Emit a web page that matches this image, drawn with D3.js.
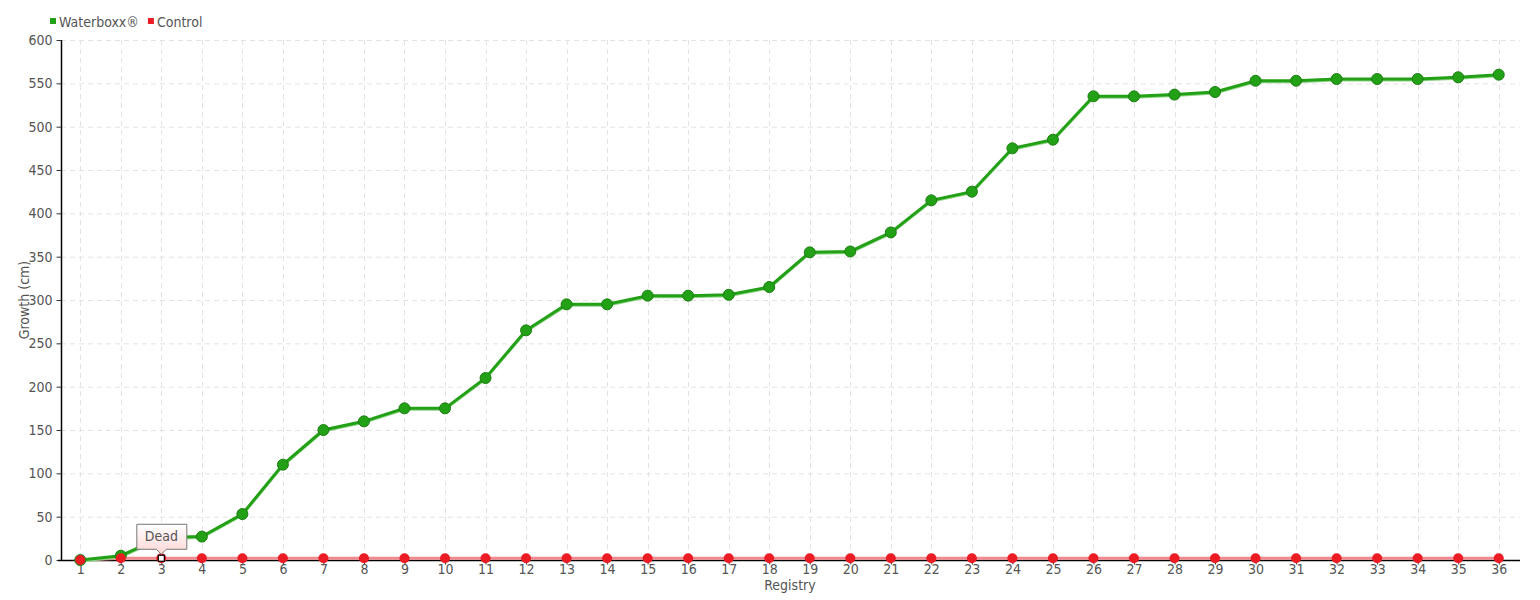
<!DOCTYPE html>
<html>
<head>
<meta charset="utf-8">
<script src="https://cdn.jsdelivr.net/npm/d3@7"></script>
<style>
  html, body { margin: 0; padding: 0; background: #fff; }
  svg text { font-family: "DejaVu Sans Condensed", "DejaVu Sans", sans-serif; font-stretch: condensed; fill: #555; }
</style>
</head>
<body>
<svg id="chart" width="1540" height="600"></svg>
<script>
const registry = d3.range(1, 37).map(String);
const waterboxx = [0, 5, 26, 27, 53, 110, 150, 160, 175, 175, 210, 265, 295, 295, 305, 305, 306, 315, 355, 356, 378, 415, 425, 475, 485, 535, 535, 537, 540, 553, 553, 555, 555, 555, 557, 560];
const control = [0, 2, 2, 2, 2, 2, 2, 2, 2, 2, 2, 2, 2, 2, 2, 2, 2, 2, 2, 2, 2, 2, 2, 2, 2, 2, 2, 2, 2, 2, 2, 2, 2, 2, 2, 2];
const controlNotes = { 3: "Dead" };
const yTicks = [0, 50, 100, 150, 200, 250, 300, 350, 400, 450, 500, 550, 600];
const seriesNames = ["Waterboxx®", "Control"];
const seriesColors = ["#22a016", "#ec1c24"];

const svg = d3.select("#chart");
const mLeft = 61, mRight = 1520, mTop = 40, mBottom = 560;

const x = d3.scalePoint().domain(registry).range([mLeft - 1, mRight - 1]).padding(0.5);
const y = d3.scaleLinear().domain([0, 600]).range([mBottom, mTop]);

// grid
const grid = svg.append("g").attr("stroke", "#e3e3e3").attr("stroke-dasharray", "5,4").attr("stroke-width", 1);
grid.selectAll(".h").data(yTicks.filter(d => d > 0)).join("line")
  .attr("x1", mLeft).attr("x2", mRight).attr("y1", d => y(d) + 0.5).attr("y2", d => y(d) + 0.5);
grid.selectAll(".v").data(registry).join("line")
  .attr("x1", d => Math.round(x(d)) + 0.5).attr("x2", d => Math.round(x(d)) + 0.5).attr("y1", mTop).attr("y2", mBottom);

// axes
const yAxis = svg.append("g").attr("transform", `translate(${mLeft + 0.5},0)`)
  .call(d3.axisLeft(y).tickValues(yTicks).tickSize(5).tickPadding(4));
yAxis.select(".domain").attr("stroke", "#000").attr("stroke-width", 1.5).attr("d", `M0,${mTop}V${mBottom}`);
yAxis.selectAll(".tick line").attr("stroke", "#333");
yAxis.selectAll("text").style("font-size", "14px").attr("fill", "#555");

const xAxis = svg.append("g").attr("transform", `translate(0,${mBottom + 0.5})`)
  .call(d3.axisBottom(x).tickSize(4).tickPadding(0));
xAxis.select(".domain").attr("stroke", "#000").attr("stroke-width", 1.5).attr("d", `M${mLeft - 3},0H${mRight}`);
xAxis.selectAll(".tick line").attr("stroke", "#333");
xAxis.selectAll("text").style("font-size", "14px").attr("fill", "#555");

// axis titles
svg.append("text").attr("x", 790).attr("y", 590).attr("text-anchor", "middle").style("font-size", "14px").text("Registry");
svg.append("text").attr("transform", `translate(29,${(mTop + mBottom) / 2}) rotate(-90)`).attr("text-anchor", "middle").style("font-size", "14px").text("Growth (cm)");

// control series
const line = d3.line().x((d, i) => x(registry[i])).y(d => y(d));
svg.append("path").datum(control).attr("d", line).attr("fill", "none")
  .attr("stroke", "#f08a8f").attr("stroke-width", 3);

// waterboxx series
svg.append("path").datum(waterboxx).attr("d", line).attr("fill", "none")
  .attr("stroke", "#8fd486").attr("stroke-width", 2).attr("transform", "translate(0,1.5)");
svg.append("path").datum(waterboxx).attr("d", line).attr("fill", "none")
  .attr("stroke", seriesColors[0]).attr("stroke-width", 3);
svg.append("g").selectAll("circle").data(waterboxx).join("circle")
  .attr("cx", (d, i) => x(registry[i])).attr("cy", d => y(d)).attr("r", 5.5)
  .attr("fill", seriesColors[0]).attr("stroke", "#1b7e12").attr("stroke-width", 1);

svg.append("g").selectAll("circle").data(control).join("circle")
  .attr("cx", (d, i) => x(registry[i])).attr("cy", d => y(d)).attr("r", 5)
  .attr("fill", seriesColors[1]);

// annotation markers
Object.entries(controlNotes).forEach(([k, label]) => {
  const i = registry.indexOf(k);
  const cx = x(k), cy = y(control[i]);
  svg.append("rect").attr("x", cx - 3).attr("y", cy - 3).attr("width", 6).attr("height", 6)
    .attr("fill", "#fff").attr("stroke", "#000").attr("stroke-width", 1.2);
  const defs = svg.append("defs");
  const grad = defs.append("linearGradient").attr("id", "tipgrad").attr("x1", 0).attr("x2", 0).attr("y1", 0).attr("y2", 1);
  grad.append("stop").attr("offset", "0%").attr("stop-color", "#ffffff");
  grad.append("stop").attr("offset", "100%").attr("stop-color", "#fdd6d6");
  const w = 50, h = 25, bx = cx - 24.5, by = cy - 34;
  svg.append("path")
    .attr("d", `M${bx},${by}H${bx + w}V${by + h}H${cx + 5}L${cx},${by + h + 5}L${cx - 5},${by + h}H${bx}Z`)
    .attr("fill", "url(#tipgrad)").attr("stroke", "#777").attr("stroke-width", 1);
  svg.append("text").attr("x", cx).attr("y", by + 17).attr("text-anchor", "middle")
    .style("font-size", "14px").attr("fill", "#555").text(label);
});

// legend
const legend = svg.append("g");
let lx = 50;
seriesNames.forEach((n, i) => {
  legend.append("rect").attr("x", lx).attr("y", 18).attr("width", 6).attr("height", 6).attr("fill", seriesColors[i]);
  const t = legend.append("text").attr("x", lx + 9).attr("y", 27).style("font-size", "14px").text(n);
  lx += 9 + t.node().getComputedTextLength() + 9;
});
</script>
</body>
</html>
